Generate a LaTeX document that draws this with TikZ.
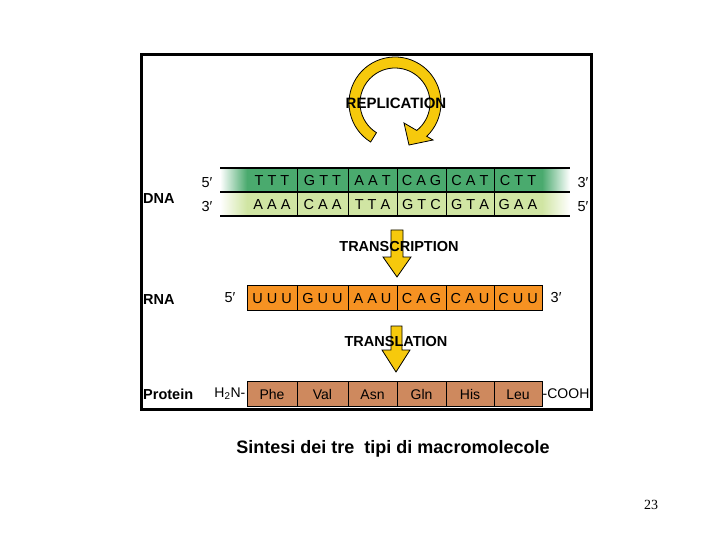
\documentclass[tikz,border=0pt]{standalone}
\usepackage{fontspec}
\setmainfont{Liberation Sans}
\newfontfamily\pagefont{Liberation Serif}
\usetikzlibrary{calc,positioning}
\definecolor{dnadark}{RGB}{74,170,110}
\definecolor{dnalight}{RGB}{208,229,163}
\definecolor{rnaorange}{RGB}{246,146,34}
\definecolor{protbrown}{RGB}{206,137,94}
\definecolor{repyellow}{RGB}{246,201,12}
\tikzset{
  strand/.style={line width=1.3pt, black},
  divider/.style={line width=1pt, black},
  codon/.style={inner sep=0pt, minimum height=24pt, text height=10.5pt, text depth=0pt, font=\fontsize{14.5}{16}\selectfont},
  rnacodon/.style={draw=black, line width=1pt, fill=rnaorange, inner sep=0pt, minimum height=25pt, text height=10.5pt, text depth=0pt, font=\fontsize{14.5}{16}\selectfont},
  aminobox/.style={draw=black, line width=1pt, fill=protbrown, inner sep=0pt, minimum height=25pt, text height=10pt, text depth=0pt, font=\fontsize{14}{16}\selectfont},
  steplabel/.style={inner sep=0pt, font=\bfseries\fontsize{14.5}{16}\selectfont},
  rowlabel/.style={inner sep=0pt, anchor=west, font=\bfseries\fontsize{14.5}{16}\selectfont},
  endlabel/.style={inner sep=0pt, font=\fontsize{14.5}{16}\selectfont},
  blockarrow/.style={fill=repyellow, draw=black, line width=0.8pt, line join=miter}
}

\begin{document}
\begin{tikzpicture}[x=1pt, y=-1pt]
\useasboundingbox (0,0) rectangle (720,540);
% ---- frame ----
\draw[line width=3pt] (141.5,54.5) rectangle (591.5,409.5);
% ---- replication ----
\coordinate (repc) at (395,103);
\filldraw[blockarrow] ($(repc)+(122:46)$) arc[start angle=122, end angle=406.4, radius=46]
  -- (433,140) -- (409,145) -- (404,123) -- ($(repc)+(411.6:35)$)
  arc[start angle=411.6, end angle=122, radius=35] -- cycle;
\node[steplabel, font=\bfseries\fontsize{15}{16}\selectfont] (rep) at (396,103) {REPLICATION};
% ---- DNA ----
\shade[left color=white, right color=dnadark] (220,168) rectangle (247,192);
\shade[left color=dnadark, right color=white] (542,168) rectangle (570,192);
\shade[left color=white, right color=dnalight] (220,192) rectangle (247,216);
\shade[left color=dnalight, right color=white] (542,192) rectangle (570,216);
\foreach \a/\b/\t [count=\i] in {247/297/T T T,297/348/G T T,348/397/A A T,397/446/C A G,446/494/C A T,494/542/C T T}
  \node[codon, fill=dnadark, minimum width={(\b-\a)*1pt}] (top\i) at ({(\a+\b)/2},180) {\t};
\foreach \a/\b/\t [count=\i] in {247/297/A A A,297/348/C A A,348/397/T T A,397/446/G T C,446/494/G T A,494/542/G A A}
  \node[codon, fill=dnalight, minimum width={(\b-\a)*1pt}] (bot\i) at ({(\a+\b)/2},204) {\t};
\draw[strand] (220,168) -- (570,168);
\draw[strand] (220,192) -- (570,192);
\draw[strand] (220,216) -- (570,216);
\foreach \i in {1,...,5}
  \draw[divider] (top\i.north east) -- (bot\i.south east);
\node[endlabel] (top5p) at (207,183) {5′};
\node[endlabel] (bot3p) at (207,207) {3′};
\node[endlabel] (top3p) at (583,183) {3′};
\node[endlabel] (bot5p) at (583,207) {5′};
\node[rowlabel] (dna) at (143,199) {DNA};
% ---- transcription ----
\filldraw[blockarrow] (391,230) -- (403,230) -- (403,257) -- (411,257) -- (397,277) -- (383,257) -- (391,257) -- cycle;
\node[steplabel] (trs) at (399,247) {TRANSCRIPTION};
% ---- RNA ----
\foreach \a/\b/\t [count=\i] in {247/297/U U U,297/348/G U U,348/397/A A U,397/446/C A G,446/494/C A U,494/542/C U U}
  \node[rnacodon, minimum width={(\b-\a)*1pt}] (rna\i) at ({(\a+\b)/2},298) {\t};
\node[endlabel, left=11pt of rna1] (rna5p) {5′};
\node[endlabel, right=8pt of rna6] (rna3p) {3′};
\node[rowlabel] (rna) at (143,300) {RNA};
% ---- translation ----
\filldraw[blockarrow] (391,326) -- (402,326) -- (402,350) -- (410,350) -- (396,372) -- (382,350) -- (391,350) -- cycle;
\node[steplabel] (trl) at (396,342) {TRANSLATION};
% ---- protein ----
\foreach \a/\b/\t [count=\i] in {247/297/Phe,297/348/Val,348/397/Asn,397/446/Gln,446/494/His,494/542/Leu}
  \node[aminobox, minimum width={(\b-\a)*1pt}] (aa\i) at ({(\a+\b)/2},394) {\t};
\node[endlabel, font=\fontsize{14}{16}\selectfont, left=1pt of aa1] (nterm) {H\textsubscript{2}N-};
\node[endlabel, font=\fontsize{14}{16}\selectfont, right=0pt of aa6] (cterm) {-COOH};
\node[rowlabel] (prot) at (143,394) {Protein};
% ---- caption ----
\node[font=\bfseries\fontsize{18}{20}\selectfont] (caption) at (393,449) {Sintesi dei tre\ \ tipi di macromolecole};
\node[font=\pagefont\fontsize{14}{15}\selectfont] (pagenum) at (651,505) {23};
\end{tikzpicture}
\end{document}
